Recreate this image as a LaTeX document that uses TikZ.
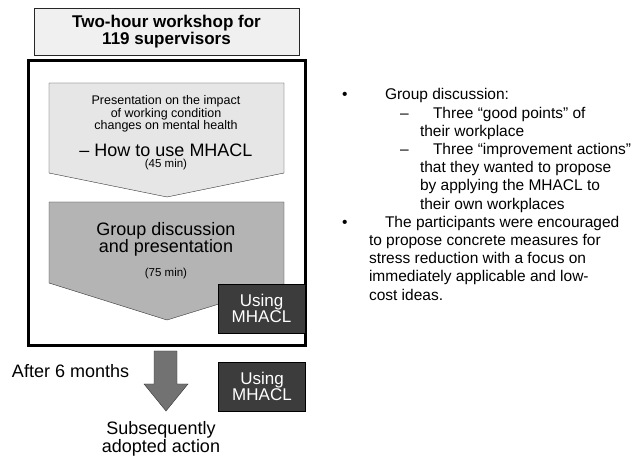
\documentclass[tikz,border=0pt]{standalone}
\usepackage{fontspec}
\setmainfont{Liberation Sans}
\definecolor{titlefill}{HTML}{F0F0F0}
\definecolor{lightfill}{HTML}{E6E6E6}
\definecolor{midfill}{HTML}{B4B4B4}
\definecolor{darkfill}{HTML}{3C3C3C}
\definecolor{arrowfill}{HTML}{727272}
\begin{document}
\begin{tikzpicture}[x=1pt,y=-1pt,
  every node/.style={inner sep=0pt,outer sep=0pt},
  ctext/.style={align=center,font=\fontsize{#1}{#1}\selectfont},
  rtext/.style={anchor=base west,font=\fontsize{15.5}{15.5}\selectfont},
  darkbox/.style={draw=black,fill=darkfill,text=white,align=center,
    font=\fontsize{17}{16}\selectfont,minimum width=87,minimum height=49},
]
\useasboundingbox (0,0) rectangle (633,457);
\fill[white] (0,0) rectangle (633,457);

% title
\node[draw=black!85,fill=titlefill,minimum width=265,minimum height=47,
  align=center,font=\fontsize{17}{17}\selectfont\bfseries] (title) at (166.5,31.5)
  {Two-hour workshop for\\119 supervisors};

% frame
\draw[line width=3pt] (28,61) rectangle (305,346);

% pentagon 1
\draw[black!80,fill=lightfill] (49,83) -- (284,83) -- (284,173) -- (167,197) -- (49,173) -- cycle;
\node[ctext=12.5,font=\fontsize{12.5}{10.5}\selectfont] (p1a) at (166,114)
  {Presentation on the impact\\of working condition\\changes on mental health};
\node[ctext=18] (p1b) at (166,150) {– How to use MHACL};
\node[ctext=11.5] (p1c) at (166,165) {(45 min)};

% pentagon 2
\draw[black!80,fill=midfill] (49,202) -- (284,202) -- (284,284) -- (167,320) -- (49,283) -- cycle;
\node[ctext=18,font=\fontsize{18}{17}\selectfont] (p2a) at (166,239.5)
  {Group discussion\\and presentation};
\node[ctext=11.5] (p2b) at (166,274) {(75 min)};

% Using MHACL boxes
\node[darkbox] (use1) at (261.5,308.5) {Using\\MHACL};
\node[darkbox] (use2) at (262,386.5) {Using\\MHACL};

% down arrow
\draw[black!80,fill=arrowfill] (154,351) -- (177,351) -- (177,384) -- (188,384)
  -- (166,411) -- (144,384) -- (154,384) -- cycle;
\node[ctext=18,anchor=west] (after) at (12,371) {After 6 months};
\node[ctext=18,font=\fontsize{18}{15}\selectfont] (subs) at (161,438.5)
  {Subsequently\\adopted action};

% right text
\node[rtext] (b1) at (342,100) {•};
\node[rtext] (t1) at (385,100) {Group discussion:};
\node[rtext] (d1) at (400,118.2) {–};
\node[rtext] (t2) at (433,118.2) {Three “good points” of};
\node[rtext] (t3) at (420,136.4) {their workplace};
\node[rtext] (d2) at (400,154.6) {–};
\node[rtext] (t4) at (433,154.6) {Three “improvement actions”};
\node[rtext] (t5) at (420,172.8) {that they wanted to propose};
\node[rtext] (t6) at (420,191) {by applying the MHACL to};
\node[rtext] (t7) at (420,209.2) {their own workplaces};
\node[rtext] (b2) at (342,227.4) {•};
\node[rtext] (t8) at (385,227.4) {The participants were encouraged};
\node[rtext] (t9) at (369,245.6) {to propose concrete measures for};
\node[rtext] (t10) at (369,263.8) {stress reduction with a focus on};
\node[rtext] (t11) at (369,282) {immediately applicable and low-};
\node[rtext] (t12) at (369,300.2) {cost ideas.};
\end{tikzpicture}
\end{document}
